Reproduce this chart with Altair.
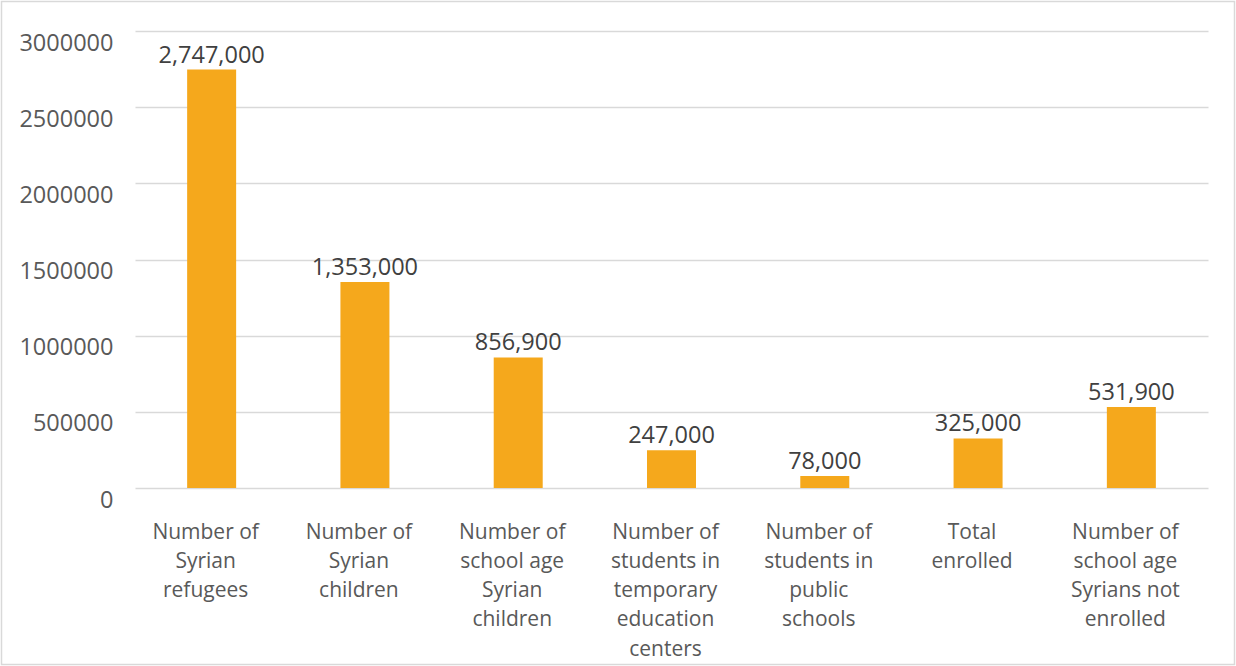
import altair as alt
import pandas as pd

categories = [
    "Number of|Syrian|refugees",
    "Number of|Syrian|children",
    "Number of|school age|Syrian|children",
    "Number of|students in|temporary|education|centers",
    "Number of|students in|public|schools",
    "Total|enrolled",
    "Number of|school age|Syrians not|enrolled",
]
values = [2747000, 1353000, 856900, 247000, 78000, 325000, 531900]
y_ticks = [0, 500000, 1000000, 1500000, 2000000, 2500000, 3000000]

df = pd.DataFrame({"cat": categories, "val": values})

FONT = "Open Sans"
W, H = 1073, 457
L, T = 135, 31

x = alt.X("cat:N", sort=categories, title=None,
          scale=alt.Scale(paddingInner=0, paddingOuter=0),
          axis=alt.Axis(labelAngle=0, labelExpr="split(datum.label, '|')",
                        labelFontSize=21, labelColor="#595959", labelFont=FONT,
                        labelLineHeight=29.3, labelPadding=33, labelOffset=-6,
                        ticks=False, domain=False, labelLimit=200))
y = alt.Y("val:Q", title=None,
          scale=alt.Scale(domain=[0, 3000000], nice=False),
          axis=alt.Axis(values=y_ticks, format="d", labelFontSize=23.5,
                        labelColor="#595959", labelFont=FONT, labelPadding=22,
                        labelOffset=12, ticks=False, domain=False,
                        gridColor="#d9d9d9", gridWidth=1.5))

bars = alt.Chart(df).mark_bar(size=49, color="#F5A81C").encode(x=x, y=y)
labels = alt.Chart(df).mark_text(baseline="alphabetic", dy=-7, fontSize=23.5,
                                 font=FONT, color="#404040").encode(
    x=alt.X("cat:N", sort=categories),
    y="val:Q",
    text=alt.Text("val:Q", format=","))

border = alt.Chart(pd.DataFrame({"a": [0]})).mark_rect(
    fill=None, stroke="#d9d9d9", strokeWidth=1.5).encode(
    x=alt.value(1.5 - L), x2=alt.value(1234.5 - L),
    y=alt.value(1.5 - T), y2=alt.value(664.5 - T))

chart = alt.layer(bars, labels, border).properties(
    width=W, height=H,
    autosize=alt.AutoSizeParams(type="none"),
    padding={"left": L, "top": T, "right": 1236 - L - W, "bottom": 666 - T - H},
    background="white",
).configure_view(stroke=None)

chart.save("out.html", embed_options={"renderer": "svg", "actions": False})
